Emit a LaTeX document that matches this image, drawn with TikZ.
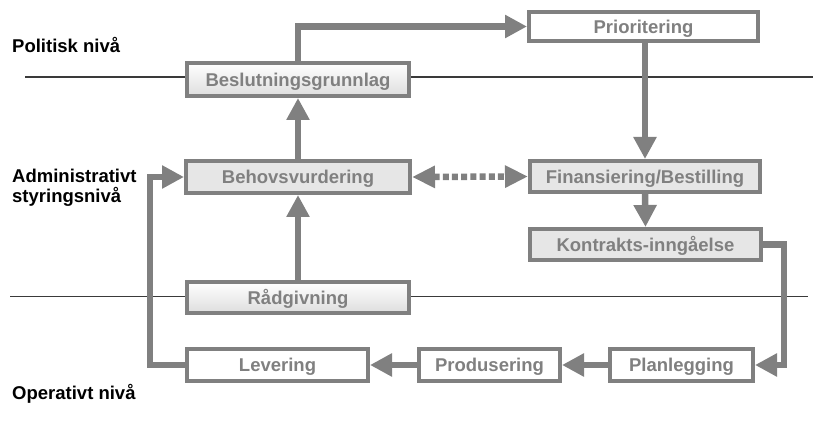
\documentclass[tikz,border=0pt]{standalone}
\usepackage{fontspec}
\setmainfont{Liberation Sans}
\usetikzlibrary{arrows.meta}
\definecolor{flowgray}{HTML}{808080}
\definecolor{boxfill}{HTML}{E6E6E6}
\definecolor{levelline}{HTML}{3A3A3A}
\begin{document}
\begin{tikzpicture}[x=1pt,y=-1pt,
  stage/.style={draw=flowgray, line width=4pt, text=flowgray,
    font=\bfseries\fontsize{18.5}{20}\selectfont, inner sep=0pt,
    text height=13.2pt, text depth=0pt},
  plainstage/.style={stage, fill=white},
  greystage/.style={stage, fill=boxfill},
  shadedstage/.style={stage, top color=white, bottom color=black!13},
  flow/.style={draw=flowgray, line width=6.5pt, line join=miter,
    -{Triangle[length=22pt,width=22pt]}},
  bothflow/.style={draw=flowgray, line width=6.5pt,
    {Triangle[length=23pt,width=21pt]}-{Triangle[length=23pt,width=21pt]},
    dash pattern=on 6pt off 3.2pt},
  levelrule/.style={draw=levelline, line width=1.1pt},
  levellabel/.style={anchor=base west, inner sep=0pt,
    font=\bfseries\fontsize{18.5}{20}\selectfont}
]
\useasboundingbox (0,0) rectangle (814,430);

% level separators
\coordinate (sepAleft) at (25,77);
\coordinate (sepAright) at (813,77);
\coordinate (sepBleft) at (10,296.5);
\coordinate (sepBright) at (808,296.5);
\draw[levelrule] (sepAleft) -- (sepAright);
\draw[levelrule] (sepBleft) -- (sepBright);

% level names
\node[levellabel] (lpol) at (12,53) {Politisk nivå};
\node[levellabel] (ladm) at (12,183) {Administrativt};
\node[levellabel] (lsty) at (12,203) {styringsnivå};
\node[levellabel] (lop) at (12,399) {Operativt nivå};

% process stages
\node[plainstage, minimum width=229pt, minimum height=29pt] (prio) at (643.5,26.5) {Prioritering};
\node[shadedstage, minimum width=222pt, minimum height=33pt] (besl) at (298,79.5) {Beslutningsgrunnlag};
\node[greystage, minimum width=224pt, minimum height=32pt] (behov) at (298,177) {Behovsvurdering};
\node[greystage, minimum width=230pt, minimum height=31pt] (fin) at (645,176.5) {Finansiering/Bestilling};
\node[greystage, minimum width=231pt, minimum height=31pt] (kontr) at (645.5,244.5) {Kontrakts-inngåelse};
\node[shadedstage, minimum width=222pt, minimum height=31pt] (raad) at (298,297.5) {Rådgivning};
\node[plainstage, minimum width=181pt, minimum height=32pt] (lev) at (277.5,365) {Levering};
\node[plainstage, minimum width=141pt, minimum height=32pt] (prod) at (489.5,365) {Produsering};
\node[plainstage, minimum width=143pt, minimum height=32pt] (plan) at (681.5,365) {Planlegging};

% turning points of the loops
\coordinate (rturn) at (784,300);
\coordinate (lturn) at (150,270);

% flows
\draw[flow] (besl.north) |- (prio.west);
\draw[flow] (fin.north |- prio.south) -- (fin.north);
\draw[flow] (fin.south) -- (kontr.north);
\draw[flow] (kontr.east) -| (rturn) |- (plan.east);
\draw[flow] (plan.west) -- (prod.east);
\draw[flow] (prod.west) -- (lev.east);
\draw[flow] (lev.west) -| (lturn) |- (behov.west);
\draw[flow] (raad.north) -- (behov.south);
\draw[flow] (behov.north) -- (besl.south);
\draw[bothflow] (behov.east) -- (fin.west);
\end{tikzpicture}
\end{document}
